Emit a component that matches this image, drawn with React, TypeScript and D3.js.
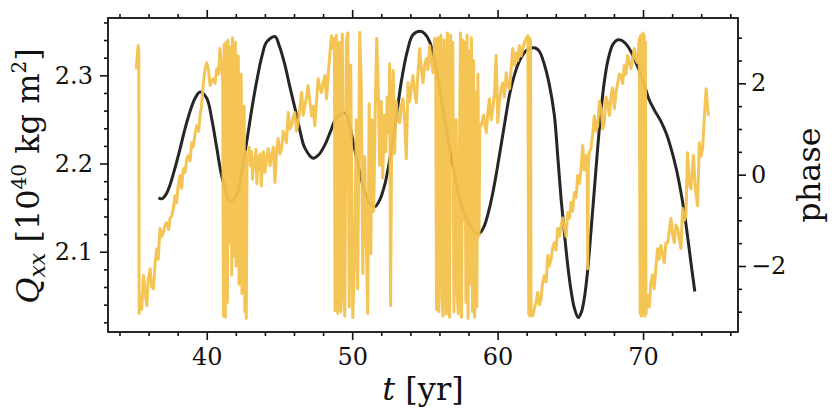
import React, { useEffect, useRef } from 'react';
import * as d3 from 'd3';

// Q_xx(t) in 10^40 kg m^2
const qxx: [number, number][] = [
  [36.68, 2.161], [36.91, 2.160], [37.2, 2.165], [37.48, 2.176], [37.8, 2.194],
  [38.17, 2.217], [38.5, 2.239], [38.85, 2.259], [39.2, 2.274], [39.54, 2.281],
  [40.0, 2.274], [40.35, 2.25], [40.69, 2.2175], [41.0, 2.188], [41.26, 2.172],
  [41.6, 2.157], [42.06, 2.165], [42.4, 2.19], [42.75, 2.225], [43.1, 2.262],
  [43.43, 2.293], [43.8, 2.322], [44.12, 2.338], [44.69, 2.344], [45.0, 2.333],
  [45.37, 2.312], [45.7, 2.288], [46.06, 2.263], [46.4, 2.238], [46.75, 2.2175],
  [47.32, 2.206], [47.7, 2.21], [48.12, 2.221], [48.5, 2.236], [48.92, 2.2515],
  [49.49, 2.257], [49.8, 2.245], [50.06, 2.225], [50.45, 2.195], [50.86, 2.168],
  [51.2, 2.155], [51.55, 2.151], [51.9, 2.159], [52.24, 2.176], [52.5, 2.197],
  [52.8, 2.225], [53.1, 2.26], [53.38, 2.293], [53.8, 2.328], [54.18, 2.346],
  [54.69, 2.35], [55.0, 2.347], [55.33, 2.338], [55.7, 2.314], [56.01, 2.2855],
  [56.35, 2.252], [56.7, 2.2175], [57.05, 2.187], [57.38, 2.161], [57.7, 2.143],
  [58.07, 2.1305], [58.4, 2.123], [58.76, 2.121], [59.1, 2.13], [59.44, 2.1494],
  [59.8, 2.178], [60.13, 2.21], [60.5, 2.247], [60.82, 2.278], [61.15, 2.3],
  [61.5, 2.316], [61.9, 2.327], [62.3, 2.331], [62.6, 2.331], [62.88, 2.327],
  [63.22, 2.312], [63.55, 2.29], [63.9, 2.255], [64.15, 2.205], [64.36, 2.161],
  [64.6, 2.12], [64.82, 2.085], [65.05, 2.056], [65.28, 2.036], [65.55, 2.0254],
  [65.75, 2.031], [65.96, 2.047], [66.2, 2.08], [66.42, 2.123], [66.65, 2.17],
  [66.88, 2.2175], [67.1, 2.258], [67.34, 2.293], [67.6, 2.318], [67.91, 2.3346],
  [68.2, 2.34], [68.48, 2.34], [68.8, 2.336], [69.17, 2.327], [69.5, 2.315],
  [69.86, 2.3006], [70.15, 2.286], [70.43, 2.272], [70.8, 2.26], [71.23, 2.2478],
  [71.6, 2.234], [71.92, 2.2175], [72.3, 2.193], [72.6, 2.168], [72.85, 2.143],
  [73.05, 2.119], [73.3, 2.087], [73.56, 2.055],
];

// phase(t) (wraps at +-pi)
const phase: [number, number][] = [
  [35.15, 2.31], [35.22, 2.6], [35.28, 2.82], [35.33, 2.7], [35.35, -3.04], [35.42, -2.65],
  [35.52, -2.95], [35.65, -2.21], [35.77, -2.6], [35.88, -2.87], [35.97, -2.3], [36.11, -2.06],
  [36.21, -2.45], [36.34, -2.5], [36.45, -1.95], [36.57, -1.62], [36.66, -1.85], [36.79, -1.18],
  [36.9, -1.35], [37.02, -1.27], [37.14, -1.1], [37.25, -1.05], [37.38, -1.2], [37.48, -0.95],
  [37.6, -0.9], [37.72, -0.7], [37.82, -0.46], [37.93, -0.62], [38.03, -0.25], [38.17, -0.02],
  [38.27, -0.3], [38.39, 0.13], [38.51, 0.05], [38.63, 0.35], [38.74, 0.42], [38.85, 0.3],
  [38.97, 0.7], [39.09, 0.62], [39.2, 0.9], [39.31, 1.07], [39.44, 0.95], [39.54, 1.29],
  [39.64, 1.5], [39.77, 2.01], [39.88, 2.3], [40.0, 2.45], [40.12, 2.3], [40.23, 1.95],
  [40.33, 2.05], [40.45, 2.1], [40.57, 2.0], [40.69, 2.32], [40.81, 2.2], [40.91, 2.76],
  [41.02, 2.4], [41.1, 2.0],
  // burst 1
  [41.15, -3.1], [41.2, 2.85], [41.25, 2.6], [41.28, -3.12], [41.33, 2.9], [41.38, 2.7],
  [41.42, -2.8], [41.47, 2.95], [41.52, -1.5], [41.57, 2.8], [41.62, -0.9], [41.67, 2.5],
  [41.72, -2.2], [41.77, 3.0], [41.82, -1.8], [41.87, 2.7], [41.92, -1.2], [41.97, 2.9],
  [42.02, -2.0], [42.07, 1.8], [42.12, -1.6], [42.17, 2.6], [42.22, -2.4], [42.27, 1.2],
  [42.32, -1.7], [42.37, 2.2], [42.42, -2.6], [42.47, 0.8], [42.52, -1.9], [42.57, 1.5],
  [42.62, -3.0], [42.67, 0.5], [42.72, -3.15], [42.77, 0.4],
  [42.85, 0.3], [42.92, 0.6], [43.0, 0.2], [43.08, 0.5], [43.15, -0.1], [43.22, 0.35],
  [43.3, 0.15], [43.38, 0.55], [43.45, -0.2], [43.52, 0.4], [43.6, 0.1], [43.68, 0.45],
  [43.75, -0.25], [43.82, 0.3], [43.9, 0.5], [44.0, 0.05], [44.12, 0.35], [44.23, 0.57],
  [44.35, 0.2], [44.46, 0.42], [44.58, 0.6], [44.69, -0.17], [44.8, 0.5], [44.91, 0.79],
  [45.03, 0.45], [45.15, 0.57], [45.26, 0.95], [45.37, 0.85], [45.48, 0.7], [45.6, 1.36],
  [45.71, 1.0], [45.83, 1.07], [45.94, 1.25], [46.06, 1.36], [46.17, 0.95], [46.29, 1.14],
  [46.4, 1.45], [46.52, 1.8], [46.63, 1.3], [46.75, 1.51], [46.86, 1.7], [46.97, 1.95],
  [47.09, 1.6], [47.21, 1.29], [47.32, 1.5], [47.43, 1.07], [47.55, 1.6], [47.66, 2.1],
  [47.78, 1.9], [47.89, 1.8], [48.0, 2.0], [48.12, 2.17], [48.24, 1.66], [48.35, 2.2],
  [48.46, 2.61], [48.58, 3.04], [48.69, 2.76], [48.78, 2.98],
  // burst 2
  [48.82, -2.98], [48.91, 3.05], [49.01, -3.04], [49.11, 2.9], [49.22, -3.0], [49.32, 3.08],
  [49.42, -2.6], [49.49, -3.1], [49.6, 2.95], [49.7, 3.1], [49.8, -2.9], [49.9, 2.4],
  [50.04, -3.13], [50.18, -1.73], [50.28, 1.2], [50.38, -2.5], [50.52, 3.11], [50.62, 2.0],
  [50.73, -2.17], [50.86, 0.4], [50.97, -1.4], [51.07, -3.04], [51.17, 1.55], [51.28, -1.73],
  [51.38, 1.2], [51.48, -0.8], [51.59, 1.5], [51.69, 2.98], [51.79, 1.9], [51.89, 0.2],
  [52.0, 1.6], [52.1, -0.07], [52.2, 1.3], [52.3, 0.5], [52.41, 1.7], [52.51, 0.9],
  [52.58, 2.43], [52.64, -2.87], [52.72, 1.0], [52.82, 2.28], [52.92, 0.46], [53.03, 1.6],
  [53.13, 1.2],
  [53.27, 1.14], [53.38, 1.5], [53.49, 1.66], [53.61, 1.2], [53.72, 0.35], [53.84, 2.01],
  [53.95, 1.6], [54.07, 1.9], [54.18, 2.17], [54.3, 1.8], [54.41, 1.58], [54.52, 2.2],
  [54.64, 2.76], [54.76, 2.3], [54.87, 2.01], [54.99, 2.4], [55.1, 2.54], [55.21, 2.3],
  [55.33, 2.82], [55.44, 2.5], [55.56, 2.23], [55.67, 2.98], [55.74, 2.7],
  // burst 3
  [55.8, -2.95], [55.88, 3.0], [55.95, -3.0], [56.02, 2.8], [56.1, 3.05], [56.17, -2.7],
  [56.25, -3.1], [56.32, 2.95], [56.4, 1.5], [56.47, -3.05], [56.55, 3.1], [56.62, -2.9],
  [56.7, -3.12], [56.77, 3.05], [56.85, 0.8], [56.92, 2.9], [57.0, -3.0], [57.07, -1.5],
  [57.15, 1.2], [57.22, -2.6], [57.3, -3.05], [57.37, 0.3], [57.45, 3.1], [57.52, -3.12],
  [57.6, 2.95], [57.67, -1.0], [57.75, 2.9], [57.82, -2.8], [57.9, 3.05], [57.97, -3.15],
  [58.05, 2.7], [58.12, -2.4], [58.2, 3.0], [58.27, -3.0], [58.35, 2.5], [58.42, -3.12],
  [58.5, 1.8], [58.57, -2.9], [58.65, 2.2], [58.72, -1.34], [58.78, 1.07],
  [58.87, 1.07], [59.03, 1.3], [59.22, 0.92], [59.34, 1.4], [59.44, 1.66], [59.56, 1.2],
  [59.67, 1.45], [59.79, 1.8], [59.9, 2.61], [60.01, 1.14], [60.13, 1.6], [60.25, 1.9],
  [60.36, 2.01], [60.47, 1.7], [60.59, 2.23], [60.7, 1.95], [60.82, 1.88], [60.93, 2.3],
  [61.04, 2.76], [61.16, 2.4], [61.28, 2.67], [61.39, 2.5], [61.5, 2.82], [61.62, 2.6],
  [61.73, 2.76], [61.85, 2.9], [61.96, 2.98], [62.08, 3.04],
  [62.14, -3.05], [62.18, 3.0], [62.22, -3.1], [62.26, 2.95], [62.3, -3.05],
  [62.42, -3.09], [62.53, -2.93], [62.65, -2.8], [62.76, -2.58], [62.88, -2.85], [62.99, -2.72],
  [63.08, -2.4], [63.22, -2.21], [63.34, -2.35], [63.45, -1.77], [63.56, -2.0], [63.68, -1.84],
  [63.79, -1.6], [63.9, -1.49], [64.02, -1.65], [64.13, -1.18], [64.25, -1.35], [64.36, -1.12],
  [64.48, -0.95], [64.59, -1.18], [64.71, -1.35], [64.82, -0.83], [64.94, -0.95], [65.05, -0.61],
  [65.16, -0.8], [65.28, -0.39], [65.4, -0.5], [65.5, -0.02], [65.62, -0.2], [65.74, 0.13],
  [65.85, 0.64], [65.97, 0.1], [66.08, 0.42], [66.16, 0.15], [66.2, -2.06], [66.24, 0.2],
  [66.31, 0.5], [66.42, 0.57], [66.54, 0.9], [66.65, 1.29], [66.77, 0.95], [66.88, 1.07],
  [67.0, 1.6], [67.12, 1.45], [67.23, 1.0], [67.34, 1.14], [67.45, 1.7], [67.57, 1.58],
  [67.69, 1.3], [67.8, 1.73], [67.91, 1.9], [68.03, 1.45], [68.14, 1.8], [68.26, 2.01],
  [68.37, 2.2], [68.48, 2.17], [68.6, 2.0], [68.71, 2.39], [68.83, 2.2], [68.94, 2.61],
  [69.06, 2.45], [69.17, 2.32], [69.29, 2.55], [69.4, 2.76], [69.51, 2.5], [69.62, 2.45],
  [69.74, 2.98],
  [69.8, -3.05], [69.84, 3.05], [69.88, -3.1], [69.92, 3.0], [69.96, -3.0], [70.0, 3.1],
  [70.04, -3.05], [70.08, 3.05], [70.12, -3.1], [70.16, 2.9], [70.2, -3.05],
  [70.31, -2.65], [70.43, -2.9], [70.54, -2.37], [70.65, -2.2], [70.77, -2.5], [70.89, -2.0],
  [71.0, -1.62], [71.11, -1.85], [71.23, -1.55], [71.34, -1.75], [71.46, -1.93], [71.57, -1.5],
  [71.69, -1.49], [71.8, -1.25], [71.92, -0.96], [72.03, -1.3], [72.15, -1.49], [72.26, -1.1],
  [72.38, -1.18], [72.49, -1.4], [72.61, -1.62], [72.72, -0.74], [72.84, -1.0], [72.95, -0.9],
  [73.06, 0.48], [73.18, -0.2], [73.29, -0.31], [73.38, 0.1], [73.47, 0.42], [73.59, -0.3],
  [73.75, -0.68], [73.87, 0.7], [73.98, 0.4], [74.1, 0.57], [74.22, 1.3], [74.34, 1.88],
  [74.43, 1.5], [74.5, 1.29],
];

const xTicks = [40, 50, 60, 70];
const qTicks = [2.1, 2.2, 2.3];
const phaseTicks = [-2, 0, 2];

const FONT = 'DejaVu Serif';

export default function App() {
  const gRef = useRef<SVGGElement>(null);

  useEffect(() => {
    if (!gRef.current) return;
    const left = 108, top = 18, right = 738, bottom = 332;

    const svg = d3.select(gRef.current);
    svg.selectAll('*').remove();

    const x = d3.scaleLinear().domain([33.21, 76.53]).range([left, right]);
    const yQ = d3.scaleLinear().domain([2.009, 2.365]).range([bottom, top]);
    const yP = d3.scaleLinear().domain([-3.445, 3.43]).range([bottom, top]);

    const fmt = (d: d3.NumberValue) => d3.format('.1f')(+d);
    const minus = (d: d3.NumberValue) => String(+d).replace('-', '\u2212');

    const styleAxis = (g: d3.Selection<SVGGElement, unknown, null, undefined>) => {
      g.attr('color', '#111').attr('font-family', FONT).attr('font-size', 24);
      g.select('.domain').remove();
      g.selectAll('line').attr('stroke-width', 1.6);
      g.selectAll('text').attr('fill', '#111');
    };

    // minor ticks
    const minor = (axis: d3.Axis<d3.NumberValue>, tr: string, vals: number[]) => {
      svg.append('g').attr('transform', tr)
        .call(axis.tickValues(vals).tickSize(4).tickFormat(() => '').tickSizeOuter(0))
        .call(styleAxis);
    };
    const xMinor = d3.range(34, 77, 2).filter(v => v % 10 !== 0);
    const qMinor = d3.range(2.02, 2.37, 0.02).filter(v => Math.abs(v * 10 - Math.round(v * 10)) > 1e-6);
    const pMinor = d3.range(-3, 3.01, 0.5).filter(v => v % 2 !== 0);
    minor(d3.axisBottom(x), `translate(0,${bottom})`, xMinor);
    minor(d3.axisTop(x), `translate(0,${top})`, xMinor);
    minor(d3.axisLeft(yQ), `translate(${left},0)`, qMinor);
    minor(d3.axisRight(yP), `translate(${right},0)`, pMinor);

    // major ticks
    svg.append('g').attr('transform', `translate(0,${bottom})`)
      .call(d3.axisBottom(x).tickValues(xTicks).tickSize(8).tickPadding(8).tickSizeOuter(0))
      .call(styleAxis);
    svg.append('g').attr('transform', `translate(0,${top})`)
      .call(d3.axisTop(x).tickValues(xTicks).tickSize(8).tickFormat(() => '').tickSizeOuter(0))
      .call(styleAxis);
    svg.append('g').attr('transform', `translate(${left},0)`)
      .call(d3.axisLeft(yQ).tickValues(qTicks).tickSize(8).tickPadding(7).tickFormat(fmt).tickSizeOuter(0))
      .call(styleAxis);
    svg.append('g').attr('transform', `translate(${right},0)`)
      .call(d3.axisRight(yP).tickValues(phaseTicks).tickSize(8).tickPadding(5).tickFormat(minus).tickSizeOuter(0))
      .call(styleAxis);

    // Q_xx curve
    svg.append('path')
      .datum(qxx)
      .attr('fill', 'none')
      .attr('stroke', '#262626')
      .attr('stroke-width', 3)
      .attr('d', d3.line<[number, number]>()
        .x(d => x(d[0])).y(d => yQ(d[1]))
        .curve(d3.curveCatmullRom.alpha(0.5)));

    // phase trace
    svg.append('path')
      .datum(phase)
      .attr('fill', 'none')
      .attr('stroke', '#f3c14c')
      .attr('stroke-opacity', 0.95)
      .attr('stroke-width', 3)
      .attr('stroke-linejoin', 'round')
      .attr('d', d3.line<[number, number]>().x(d => x(d[0])).y(d => yP(d[1])));

    // frame
    svg.append('rect')
      .attr('x', left).attr('y', top)
      .attr('width', right - left).attr('height', bottom - top)
      .attr('fill', 'none').attr('stroke', '#111').attr('stroke-width', 1.8);
  }, []);

  return (
    <svg width={838} height={420}
      style={{ position: 'absolute', left: 0, top: 0, background: '#fff' }}>
      <g ref={gRef} />
      <text x={423} y={400} textAnchor="middle" fontFamily={FONT} fontSize={32} fill="#111">
        <tspan fontStyle="italic">t</tspan> [yr]
      </text>
      <text transform="translate(39,176) rotate(-90)" textAnchor="middle" fontFamily={FONT} fontSize={32} fill="#111">
        <tspan fontStyle="italic">Q</tspan>
        <tspan fontStyle="italic" fontSize={22} dy={6}>xx</tspan>
        <tspan dy={-6}> [10</tspan>
        <tspan fontSize={20} dy={-13}>40</tspan>
        <tspan dy={13}> kg m</tspan>
        <tspan fontSize={20} dy={-13}>2</tspan>
        <tspan dy={13}>]</tspan>
      </text>
      <text transform="translate(820,175) rotate(-90)" textAnchor="middle" fontFamily={FONT} fontSize={32} fill="#111">
        phase
      </text>
    </svg>
  );
}
